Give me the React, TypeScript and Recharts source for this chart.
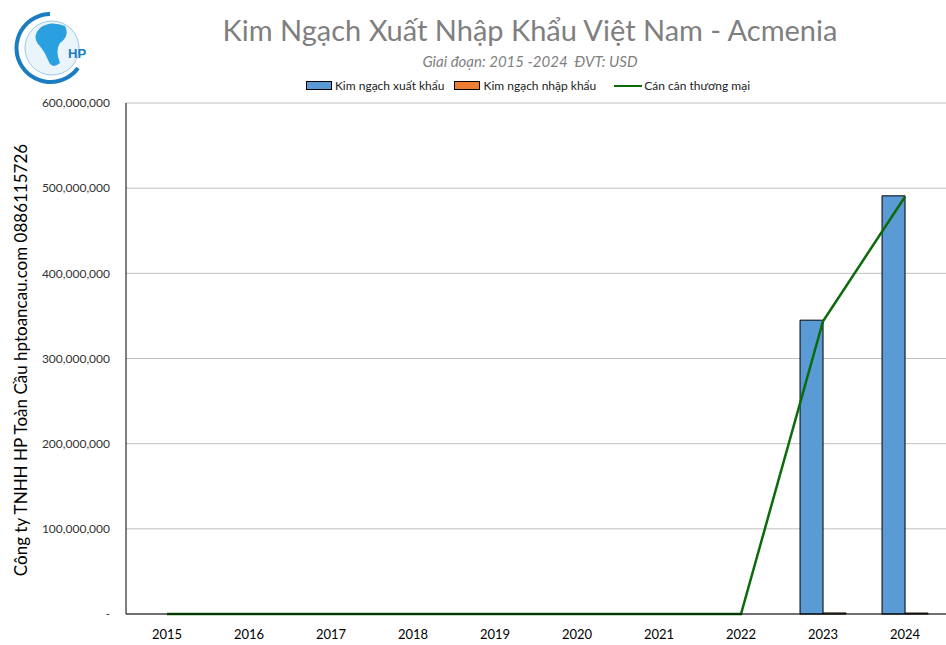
import React from "react";
import {
  ComposedChart,
  Bar,
  Line,
  XAxis,
  YAxis,
  CartesianGrid,
} from "recharts";

const nam = ["2015", "2016", "2017", "2018", "2019", "2020", "2021", "2022", "2023", "2024"];
const xuatKhau = [0, 0, 0, 0, 0, 0, 0, 0, 345000000, 491000000];
const nhapKhau = [0, 0, 0, 0, 0, 0, 0, 0, 1200000, 1100000];
const canCan = [0, 0, 0, 0, 0, 0, 0, 0, 343800000, 489900000];
const yTicks = [0, 100000000, 200000000, 300000000, 400000000, 500000000, 600000000];

const duLieu = nam.map((n, i) => ({
  nam: n,
  xuat: xuatKhau[i],
  nhap: nhapKhau[i],
  cancan: canCan[i],
}));

const font = "Lato, 'Open Sans', sans-serif";

const fmt = (v: number) => (v === 0 ? "-" : v.toLocaleString("en-US"));

const ChuGiai = () => (
  <div
    style={{
      position: "absolute",
      top: 78,
      left: 0,
      width: 1056,
      display: "flex",
      justifyContent: "center",
      alignItems: "center",
      fontSize: 12,
      fontFamily: font,
      color: "#222",
      gap: 10,
    }}
  >
    <span style={{ display: "flex", alignItems: "center" }}>
      <span style={{ width: 24, height: 7, background: "#5b9bd5", border: "1px solid #000", marginRight: 3 }} />
      Kim ngạch xuất khẩu
    </span>
    <span style={{ display: "flex", alignItems: "center" }}>
      <span style={{ width: 24, height: 7, background: "#ed7d31", border: "1px solid #000", marginRight: 3 }} />
      Kim ngạch nhập khẩu
    </span>
    <span style={{ display: "flex", alignItems: "center", marginLeft: 8 }}>
      <span style={{ width: 28, height: 2, background: "#0b6b0b", marginRight: 2 }} />
      Cán cân thương mại
    </span>
  </div>
);

const Logo = () => (
  <svg width={80} height={80} viewBox="0 0 80 80" style={{ position: "absolute", left: 10, top: 8 }}>
    <path d="M 40 6 A 34 34 0 1 0 68 60" fill="none" stroke="#1a7cc1" strokeWidth={4} />
    <circle cx={42} cy={40} r={27} fill="#eaf4fb" stroke="#9cc8ea" strokeWidth={1} />
    <path d="M 30 20 Q 40 12 55 18 Q 60 28 50 35 Q 45 42 50 55 Q 42 62 38 52 Q 34 42 28 36 Q 22 28 30 20 Z" fill="#2aa0e0" />
    <text x={58} y={50} fontSize={13} fontWeight="bold" fill="#1a7cc1" fontFamily="Liberation Sans, sans-serif">HP</text>
  </svg>
);

const App = () => {
  return (
    <div style={{ position: "relative", width: 946, height: 645, background: "#fff" }}>
      <style>{`body{margin:0}`}</style>
      <Logo />
      <div
        style={{
          position: "absolute",
          top: 12,
          left: 0,
          width: 1060,
          textAlign: "center",
          fontSize: 29,
          fontFamily: font,
          fontWeight: 400,
          color: "#7f7f7f",
        }}
      >
        Kim Ngạch Xuất Nhập Khẩu Việt Nam - Acmenia
      </div>
      <div
        style={{
          position: "absolute",
          top: 52,
          left: 0,
          width: 1060,
          textAlign: "center",
          fontSize: 15,
          fontStyle: "italic",
          fontFamily: font,
          color: "#7f7f7f",
        }}
      >
        Giai đoạn: 2015 -2024&nbsp; ĐVT: USD
      </div>
      <ChuGiai />
      <div
        style={{
          position: "absolute",
          left: 20,
          top: 360,
          transform: "translate(-50%, -50%) rotate(-90deg)",
          whiteSpace: "nowrap",
          fontSize: 17,
          fontFamily: font,
          color: "#000",
        }}
      >
        Công ty TNHH HP Toàn Cầu hptoancau.com 0886115726
      </div>
      <ComposedChart
        width={946}
        height={645}
        data={duLieu}
        margin={{ top: 103, right: 0, bottom: 0, left: 46 }}
        barGap={0}
        barCategoryGap="22%"
        style={{ position: "absolute", left: 0, top: 0 }}
      >
        <CartesianGrid vertical={false} stroke="#bfbfbf" />
        <XAxis
          dataKey="nam"
          height={31}
          tickLine={false}
          axisLine={{ stroke: "#000" }}
          tickMargin={10}
          tick={{ fill: "#000", fontSize: 13, fontFamily: font }}
        />
        <YAxis
          width={80}
          domain={[0, 600000000]}
          ticks={yTicks}
          tickFormatter={fmt}
          tickLine={false}
          axisLine={{ stroke: "#000" }}
          tickMargin={10}
          tick={{ fill: "#333", fontSize: 12, fontFamily: font }}
        />
        <Bar dataKey="xuat" fill="#5b9bd5" stroke="#000" strokeWidth={1} isAnimationActive={false} />
        <Bar dataKey="nhap" fill="#ed7d31" stroke="#000" strokeWidth={1} isAnimationActive={false} />
        <Line
          type="linear"
          dataKey="cancan"
          stroke="#0b6b0b"
          strokeWidth={2.5}
          dot={false}
          isAnimationActive={false}
        />
      </ComposedChart>
    </div>
  );
};

export default App;
